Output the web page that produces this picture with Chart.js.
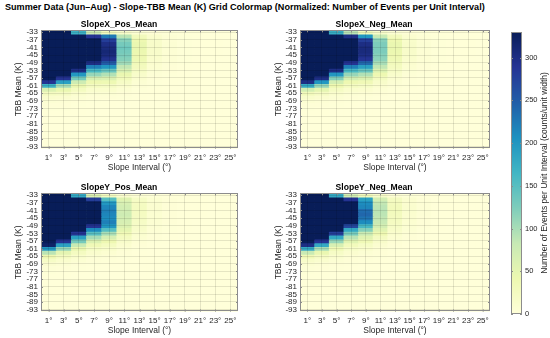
<!DOCTYPE html>
<html><head><meta charset="utf-8">
<script src="https://cdn.jsdelivr.net/npm/chart.js@4"></script>
<style>
html,body{margin:0;padding:0;background:#fff;width:550px;height:338px;overflow:hidden;position:relative;}
canvas{position:absolute;}
#title{position:absolute;left:5px;top:3px;font-family:"Liberation Sans",Arial,sans-serif;font-weight:bold;color:#000;white-space:nowrap;line-height:1;}
</style></head><body>
<div id="title">Summer Data (Jun–Aug) - Slope-TBB Mean (K) Grid Colormap (Normalized: Number of Events per Unit Interval)</div>
<canvas id="p0" width="245" height="161" style="left:0px;top:14px"></canvas>
<canvas id="p1" width="240" height="161" style="left:258px;top:14px"></canvas>
<canvas id="p2" width="245" height="161" style="left:0px;top:177px"></canvas>
<canvas id="p3" width="240" height="161" style="left:258px;top:177px"></canvas>
<canvas id="cb" width="55" height="310" style="left:495px;top:18px"></canvas>
<script>
// ---------- data ----------
const xLabels = ['1°','3°','5°','7°','9°','11°','13°','15°','17°','19°','21°','23°','25°'];
const yCenters = [-33,-35,-37,-39,-41,-43,-45,-47,-49,-51,-53,-55,-57,-59,-61,-63,-65,-67,-69,-71,-73,-75,-77,-79,-81,-83,-85,-87,-89,-91,-93];
const yTicks = [-33,-37,-41,-45,-49,-53,-57,-61,-65,-69,-73,-77,-81,-85,-89,-93];
const panelTitles = ['SlopeX_Pos_Mean','SlopeX_Neg_Mean','SlopeY_Pos_Mean','SlopeY_Neg_Mean'];
const colorMax = 330;
const colorTicks = [0,50,100,150,200,250,300];

const slopeXPos = [
[400,400,170,75,28,15,6,3,2,1,1,0,0],
[400,400,400,290,225,90,30,12,5,2,1,1,0],
[400,400,400,400,280,120,40,15,5,2,1,1,0],
[400,400,400,400,300,130,45,16,6,2,1,1,0],
[400,400,400,400,305,135,45,16,6,2,1,1,0],
[400,400,400,400,310,130,42,15,5,2,1,1,0],
[400,400,400,400,305,125,40,14,5,2,1,1,0],
[400,400,400,400,295,120,38,12,5,2,1,0,0],
[400,400,400,300,250,105,32,10,4,2,1,0,0],
[400,400,400,220,200,85,28,8,3,1,1,0,0],
[400,400,300,160,140,65,22,6,3,1,0,0,0],
[400,400,200,110,95,45,15,4,2,1,0,0,0],
[400,290,130,65,60,30,10,3,1,1,0,0,0],
[290,190,75,40,38,20,6,2,1,0,0,0,0],
[170,100,45,25,22,12,4,2,1,0,0,0,0],
[60,45,25,12,12,6,2,1,0,0,0,0,0],
[25,22,12,6,6,3,1,1,0,0,0,0,0],
[12,10,6,3,3,2,1,0,0,0,0,0,0],
[6,5,3,2,1,1,0,0,0,0,0,0,0],
[3,3,2,1,1,0,0,0,0,0,0,0,0],
[2,2,1,1,0,0,0,0,0,0,0,0,0],
[1,1,1,0,0,0,0,0,0,0,0,0,0],
[0,0,0,0,0,0,0,0,0,0,0,0,0],
[0,0,0,0,0,0,0,0,0,0,0,0,0],
[0,0,0,0,0,0,0,0,0,0,0,0,0],
[0,0,0,0,0,0,0,0,0,0,0,0,0],
[0,0,0,0,0,0,0,0,0,0,0,0,0],
[0,0,0,0,0,0,0,0,0,0,0,0,0],
[0,0,0,0,0,0,0,0,0,0,0,0,0],
[0,0,0,0,0,0,0,0,0,0,0,0,0],
[0,0,0,0,0,0,0,0,0,0,0,0,0]
];
const slopeXNeg = [
[400,400,175,90,30,15,6,3,2,1,1,0,0],
[400,400,400,300,200,80,28,10,4,2,1,1,0],
[400,400,400,400,280,120,40,14,5,2,1,1,0],
[400,400,400,400,300,125,45,15,6,2,1,1,0],
[400,400,400,400,305,125,45,16,6,2,1,1,0],
[400,400,400,400,305,125,42,15,5,2,1,1,0],
[400,400,400,400,300,120,40,14,5,2,1,1,0],
[400,400,400,400,290,115,36,12,5,2,1,0,0],
[400,400,400,290,240,100,30,10,4,2,1,0,0],
[400,400,400,220,190,85,26,8,3,1,1,0,0],
[400,400,300,160,140,60,20,6,3,1,0,0,0],
[400,400,200,110,95,40,14,4,2,1,0,0,0],
[400,300,120,70,60,25,9,3,1,1,0,0,0],
[300,200,70,40,35,15,6,2,1,0,0,0,0],
[180,110,40,25,20,10,4,2,1,0,0,0,0],
[70,50,22,12,10,5,2,1,0,0,0,0,0],
[30,22,12,6,5,3,1,0,0,0,0,0,0],
[14,10,6,3,2,1,0,0,0,0,0,0,0],
[7,5,3,2,1,0,0,0,0,0,0,0,0],
[3,3,2,1,0,0,0,0,0,0,0,0,0],
[2,1,1,0,0,0,0,0,0,0,0,0,0],
[1,1,0,0,0,0,0,0,0,0,0,0,0],
[0,0,0,0,0,0,0,0,0,0,0,0,0],
[0,0,0,0,0,0,0,0,0,0,0,0,0],
[0,0,0,0,0,0,0,0,0,0,0,0,0],
[0,0,0,0,0,0,0,0,0,0,0,0,0],
[0,0,0,0,0,0,0,0,0,0,0,0,0],
[0,0,0,0,0,0,0,0,0,0,0,0,0],
[0,0,0,0,0,0,0,0,0,0,0,0,0],
[0,0,0,0,0,0,0,0,0,0,0,0,0],
[0,0,0,0,0,0,0,0,0,0,0,0,0]
];
const slopeYPos = [
[400,400,180,60,25,10,4,2,1,1,0,0,0],
[400,400,400,280,150,55,20,8,3,1,1,0,0],
[400,400,400,400,200,65,24,9,3,1,1,0,0],
[400,400,400,400,215,70,25,9,3,1,1,0,0],
[400,400,400,400,220,72,25,9,3,1,1,0,0],
[400,400,400,400,215,75,24,8,3,1,1,0,0],
[400,400,400,400,210,70,22,8,3,1,0,0,0],
[400,400,400,400,220,65,20,7,3,1,0,0,0],
[400,400,400,290,200,60,18,6,2,1,0,0,0],
[400,400,400,210,150,50,15,5,2,1,0,0,0],
[400,400,290,150,100,35,11,4,1,0,0,0,0],
[400,400,190,100,65,25,8,3,1,0,0,0,0],
[400,290,130,60,40,15,5,2,1,0,0,0,0],
[320,190,80,35,25,10,3,1,0,0,0,0,0],
[200,110,45,20,14,6,2,1,0,0,0,0,0],
[90,50,25,12,8,3,1,0,0,0,0,0,0],
[40,25,13,6,4,2,1,0,0,0,0,0,0],
[20,12,7,3,2,1,0,0,0,0,0,0,0],
[9,6,3,2,1,0,0,0,0,0,0,0,0],
[4,3,2,1,0,0,0,0,0,0,0,0,0],
[2,1,1,0,0,0,0,0,0,0,0,0,0],
[1,1,0,0,0,0,0,0,0,0,0,0,0],
[0,0,0,0,0,0,0,0,0,0,0,0,0],
[0,0,0,0,0,0,0,0,0,0,0,0,0],
[0,0,0,0,0,0,0,0,0,0,0,0,0],
[0,0,0,0,0,0,0,0,0,0,0,0,0],
[0,0,0,0,0,0,0,0,0,0,0,0,0],
[0,0,0,0,0,0,0,0,0,0,0,0,0],
[0,0,0,0,0,0,0,0,0,0,0,0,0],
[0,0,0,0,0,0,0,0,0,0,0,0,0],
[0,0,0,0,0,0,0,0,0,0,0,0,0]
];
const slopeYNeg = [
[400,400,180,70,30,15,5,2,1,1,0,0,0],
[400,400,400,290,190,70,25,10,3,1,1,0,0],
[400,400,400,400,210,85,28,10,4,1,1,0,0],
[400,400,400,400,215,88,30,11,4,1,1,0,0],
[400,400,400,400,235,90,30,11,4,1,1,0,0],
[400,400,400,400,240,88,28,10,4,1,1,0,0],
[400,400,400,400,230,85,26,9,3,1,0,0,0],
[400,400,400,400,210,80,24,8,3,1,0,0,0],
[400,400,400,270,160,70,20,7,3,1,0,0,0],
[400,400,400,180,120,55,16,6,2,1,0,0,0],
[400,400,280,130,80,40,12,4,1,0,0,0,0],
[400,400,180,90,55,25,8,3,1,0,0,0,0],
[400,290,110,55,35,15,5,2,1,0,0,0,0],
[300,180,65,30,20,9,3,1,0,0,0,0,0],
[180,100,35,18,12,5,2,1,0,0,0,0,0],
[80,45,20,10,6,3,1,0,0,0,0,0,0],
[35,22,11,5,3,2,0,0,0,0,0,0,0],
[16,11,6,3,2,1,0,0,0,0,0,0,0],
[8,5,3,2,1,0,0,0,0,0,0,0,0],
[4,3,2,1,0,0,0,0,0,0,0,0,0],
[2,1,1,0,0,0,0,0,0,0,0,0,0],
[1,1,0,0,0,0,0,0,0,0,0,0,0],
[0,0,0,0,0,0,0,0,0,0,0,0,0],
[0,0,0,0,0,0,0,0,0,0,0,0,0],
[0,0,0,0,0,0,0,0,0,0,0,0,0],
[0,0,0,0,0,0,0,0,0,0,0,0,0],
[0,0,0,0,0,0,0,0,0,0,0,0,0],
[0,0,0,0,0,0,0,0,0,0,0,0,0],
[0,0,0,0,0,0,0,0,0,0,0,0,0],
[0,0,0,0,0,0,0,0,0,0,0,0,0],
[0,0,0,0,0,0,0,0,0,0,0,0,0]
];

// ---------- styling ----------
const FONT = '"Liberation Sans", Arial, Helvetica, sans-serif';
Chart.defaults.font.family = FONT;
Chart.defaults.color = '#262626';
const cmapStops = [[0,'#ffffd9'],[0.125,'#edf8b1'],[0.25,'#c7e9b4'],[0.375,'#7fcdbb'],[0.5,'#41b6c4'],[0.625,'#1d91c0'],[0.75,'#225ea8'],[0.875,'#253494'],[1,'#081d58']];
function hex2rgb(h){return [parseInt(h.substr(1,2),16),parseInt(h.substr(3,2),16),parseInt(h.substr(5,2),16)];}
function colorFor(v){
  const t = Math.max(0, Math.min(1, v / colorMax));
  for (let i = 1; i < cmapStops.length; i++) {
    if (t <= cmapStops[i][0]) {
      const [t0,c0] = cmapStops[i-1], [t1,c1] = cmapStops[i];
      const f = (t - t0) / (t1 - t0);
      const a = hex2rgb(c0), b = hex2rgb(c1);
      return `rgb(${Math.round(a[0]+(b[0]-a[0])*f)},${Math.round(a[1]+(b[1]-a[1])*f)},${Math.round(a[2]+(b[2]-a[2])*f)})`;
    }
  }
  return cmapStops[cmapStops.length-1][1];
}

const boxPlugin = {
  id: 'boxPlugin',
  beforeDraw(chart, args, opts) {
    const a = chart.chartArea, ctx = chart.ctx;
    if (opts.fill) { ctx.save(); ctx.fillStyle = opts.fill; ctx.fillRect(a.left, a.top, a.right - a.left, a.bottom - a.top); ctx.restore(); }
  },
  afterDraw(chart, args, opts) {
    const a = chart.chartArea, ctx = chart.ctx;
    ctx.save();
    ctx.strokeStyle = opts.stroke || '#8c8c8c';
    ctx.lineWidth = 1;
    ctx.strokeRect(Math.round(a.left) + 0.5, Math.round(a.top) + 0.5, Math.round(a.right - a.left) - 1, Math.round(a.bottom - a.top) - 1);
    const tl = 2;
    ctx.beginPath();
    Object.values(chart.scales).forEach(s => {
      if (!s.options.display) return;
      s.ticks.forEach((t, i) => {
        const p = Math.round(s.getPixelForTick(i)) + 0.5;
        if (s.isHorizontal()) {
          ctx.moveTo(p, a.bottom); ctx.lineTo(p, a.bottom - tl);
          ctx.moveTo(p, a.top); ctx.lineTo(p, a.top + tl);
        } else {
          ctx.moveTo(a.left, p); ctx.lineTo(a.left + tl, p);
          ctx.moveTo(a.right, p); ctx.lineTo(a.right - tl, p);
        }
      });
    });
    ctx.stroke();
    if (opts.label) {
      ctx.fillStyle = '#262626';
      ctx.font = opts.labelFont;
      ctx.textAlign = 'center';
      ctx.textBaseline = 'middle';
      ctx.translate(opts.labelX, (a.top + a.bottom) / 2 + (opts.labelDY || 0));
      ctx.rotate(-Math.PI / 2);
      ctx.fillText(opts.label, 0, 0);
    }
    ctx.restore();
  }
};

function makePanel(id, title, values, yTitlePad, yWidth, padRight) {
  const datasets = yCenters.map((yc, r) => ({
    data: xLabels.map(() => [yc - 1, yc + 1]),
    backgroundColor: values[r].map(colorFor),
    borderWidth: 0,
    barPercentage: 1,
    categoryPercentage: 1,
    grouped: false
  }));
  new Chart(document.getElementById(id), {
    type: 'bar',
    data: { labels: xLabels, datasets },
    plugins: [boxPlugin],
    options: {
      responsive: false,
      animation: false,
      events: [],
      layout: { padding: { left: 0, right: padRight, top: 0, bottom: 0 } },
      plugins: {
        legend: { display: false },
        tooltip: { enabled: false },
        title: { display: true, text: title, color: '#000', font: { size: 8.6, weight: 'bold', lineHeight: 1.2 }, padding: { top: 5.5, bottom: 0.5 } },
        boxPlugin: { fill: '#ffffd9', stroke: '#8c8c8c' }
      },
      scales: {
        x: {
          type: 'category',
          offset: true,
          grid: { display: true, offset: false, drawTicks: false, color: 'rgba(0,0,0,0.1)', lineWidth: 1, z: 1 },
          border: { display: false },
          ticks: { autoSkip: false, maxRotation: 0, padding: 4, font: { size: 8 }, color: '#262626' },
          title: { display: true, text: 'Slope Interval (°)', font: { size: 8.5 }, color: '#262626', padding: { top: 0, bottom: 2 } },
          afterFit(s) { s.height = 26.5; }
        },
        y: {
          type: 'linear',
          min: -94,
          max: -32,
          afterBuildTicks(s) { s.ticks = yTicks.map(v => ({ value: v })); },
          grid: { display: true, drawTicks: false, color: 'rgba(0,0,0,0.1)', lineWidth: 1, z: 1 },
          border: { display: false },
          ticks: { autoSkip: false, padding: 3, font: { size: 8 }, color: '#262626', callback: v => String(v) },
          title: { display: true, text: 'TBB Mean (K)', font: { size: 8.5 }, color: '#262626', padding: { top: yTitlePad, bottom: 0 } },
          afterFit(s) { s.width = yWidth; }
        }
      }
    }
  });
}

makePanel('p0', panelTitles[0], slopeXPos, 14, 41, 7);
makePanel('p1', panelTitles[1], slopeXNeg, 16, 42, 8);
makePanel('p2', panelTitles[2], slopeYPos, 14, 41, 7);
makePanel('p3', panelTitles[3], slopeYNeg, 16, 42, 8);

// ---------- colorbar ----------
new Chart(document.getElementById('cb'), {
  type: 'bar',
  data: { labels: [''], datasets: [{
    data: [[0, colorMax]],
    borderWidth: 0,
    barPercentage: 1,
    categoryPercentage: 1,
    backgroundColor(ctx) {
      const ch = ctx.chart; if (!ch.chartArea) return '#ffffd9';
      const y0 = ch.scales.y.getPixelForValue(0), y1 = ch.scales.y.getPixelForValue(colorMax);
      const g = ch.ctx.createLinearGradient(0, y0, 0, y1);
      cmapStops.forEach(([t, c]) => g.addColorStop(t, c));
      return g;
    }
  }] },
  plugins: [boxPlugin],
  options: {
    responsive: false,
    animation: false,
    events: [],
    layout: { padding: { left: 16, right: 0, top: 14, bottom: 14 } },
    plugins: {
      legend: { display: false }, tooltip: { enabled: false },
      boxPlugin: { stroke: '#8c8c8c', label: 'Number of Events per Unit Interval (counts/unit width)', labelFont: '8.5px ' + FONT, labelX: 49.5, labelDY: 0 }
    },
    scales: {
      x: { display: false },
      y: {
        position: 'right', min: 0, max: colorMax,
        afterBuildTicks(s) { s.ticks = colorTicks.map(v => ({ value: v })); },
        grid: { display: false, drawTicks: false },
        border: { display: false },
        ticks: { padding: 3, font: { size: 7.5 }, color: '#262626' },
        afterFit(s) { s.width = 28; }
      }
    }
  }
});

// main title width fit
(function(){
  const el = document.getElementById('title');
  const c = document.createElement('canvas').getContext('2d');
  c.font = 'bold 10px ' + FONT;
  const w = c.measureText(el.textContent).width;
  el.style.fontSize = (10 * 480 / w).toFixed(2) + 'px';
})();
</script>
</body></html>
